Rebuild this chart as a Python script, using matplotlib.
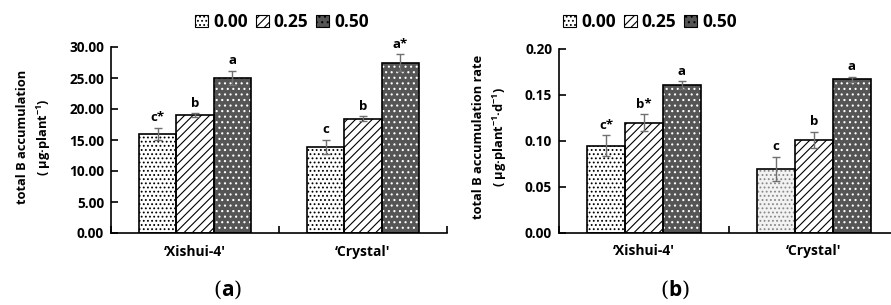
import numpy as np
import matplotlib
matplotlib.use('Agg')
import matplotlib.pyplot as plt
from matplotlib.patches import Patch

plt.rcParams['font.family'] = ['Open Sans', 'DejaVu Sans']
plt.rcParams['font.weight'] = 'bold'
plt.rcParams['mathtext.fontset'] = 'custom'
plt.rcParams['mathtext.rm'] = 'Open Sans:bold'
plt.rcParams['mathtext.bf'] = 'Open Sans:bold'
plt.rcParams['hatch.linewidth'] = 0.8

cultivars = ["\u2018Xishui-4'", "\u2018Crystal'"]
levels = ['0.00', '0.25', '0.50']

# panel (a): total B accumulation (ug/plant)
acc_mean = [[16.0, 13.9], [19.0, 18.4], [25.0, 27.5]]
acc_err = [[1.0, 1.1], [0.3, 0.4], [1.2, 1.3]]
acc_lab = [['c*', 'c'], ['b', 'b'], ['a', 'a*']]

# panel (b): total B accumulation rate (ug/plant/d)
rate_mean = [[0.095, 0.070], [0.120, 0.101], [0.161, 0.167]]
rate_err = [[0.011, 0.013], [0.009, 0.009], [0.004, 0.003]]
rate_lab = [['c*', 'c'], ['b*', 'b'], ['a', 'a']]

styles = [dict(fc='white', hc='black', hatch='....'),
          dict(fc='white', hc='black', hatch='////'),
          dict(fc='#555555', hc='white', hatch='...')]

fig = plt.figure(figsize=(8.91, 3.05), dpi=100)
ax_a = fig.add_axes([111/891, 72/305, 336/891, 186/305])
ax_b = fig.add_axes([559/891, 72/305, 340/891, 184/305])

w = 0.223
x = np.array([0.5, 1.5])


def draw(ax, means, errs, labs, ymax, step, fmt, light=None):
    for i in range(3):
        xs = x + (i - 1) * w
        st = styles[i]
        for j in range(2):
            fc, hc = st['fc'], st['hc']
            if light is not None and (i, j) == light:
                fc, hc = '#f2f2f2', '#888888'
            ax.bar(xs[j], means[i][j], w, color=fc, edgecolor=hc,
                   hatch=st['hatch'], linewidth=0, zorder=2)
            ax.bar(xs[j], means[i][j], w, fill=False, edgecolor='black',
                   linewidth=1.2, zorder=3)
            ax.errorbar(xs[j], means[i][j], yerr=errs[i][j], color='#707070',
                        capsize=3, elinewidth=1, capthick=1, zorder=4)
            ax.text(xs[j], means[i][j] + errs[i][j] + ymax * 0.02, labs[i][j],
                    ha='center', va='bottom', fontsize=9.5, fontweight='bold')
    ax.set_xlim(0, 2)
    ax.set_ylim(0, ymax)
    ticks = np.arange(0, ymax + step / 2, step)
    ax.set_yticks(ticks)
    ax.set_yticklabels([fmt % v for v in ticks], fontsize=9.8, fontweight='bold')
    ax.set_xticks([0, 1, 2])
    ax.set_xticklabels([])
    ax.tick_params(axis='y', direction='in', length=5, width=1.2, pad=5)
    ax.tick_params(axis='x', direction='in', length=5, width=1.2)
    for xc, name in zip(x, cultivars):
        ax.text(xc, -0.1, name, transform=ax.get_xaxis_transform(),
                ha='center', va='center', fontsize=10, fontweight='bold')
    for s in ['top', 'right']:
        ax.spines[s].set_visible(False)
    for s in ['left', 'bottom']:
        ax.spines[s].set_linewidth(1.2)
    handles = [Patch(facecolor=st['fc'], edgecolor='black', hatch=st['hatch'],
                     linewidth=0.8) for st in styles]
    return handles


h = draw(ax_a, acc_mean, acc_err, acc_lab, 30, 5, '%.2f')
draw(ax_b, rate_mean, rate_err, rate_lab, 0.20, 0.05, '%.2f', light=(0, 1))

for cx in [282/891, 650/891]:
    fig.legend(h, levels, loc='center', bbox_to_anchor=(cx, 1 - 22/305),
               ncol=3, frameon=False, handlelength=0.75,
               handleheight=0.75, handletextpad=0.3, columnspacing=0.45,
               prop={'weight': 'bold', 'size': 12.5})

fig.text(23/891, 1 - 137/305, 'total B accumulation', rotation=90,
         ha='center', va='center', fontsize=9.3, fontweight='bold')
fig.text(44/891, 1 - 137/305, '( \u03bcg\u00b7plant$^{-1}$)', rotation=90,
         ha='center', va='center', fontsize=9.3, fontweight='bold')
fig.text(478/891, 1 - 137/305, 'total B accumulation rate', rotation=90,
         ha='center', va='center', fontsize=9.3, fontweight='bold')
fig.text(500/891, 1 - 137/305, '( \u03bcg\u00b7plant$^{-1}$\u00b7d$^{-1}$)',
         rotation=90, ha='center', va='center', fontsize=9.3, fontweight='bold')

for cx, letter in [(228/891, 'a'), (675/891, 'b')]:
    fig.text(cx, 1 - 290/305, '(' + r'$\mathbf{' + letter + '}$' + ')',
             ha='center', va='center', fontsize=15,
             family='DejaVu Serif', fontweight='normal')

fig.savefig('out.png', dpi=100)
